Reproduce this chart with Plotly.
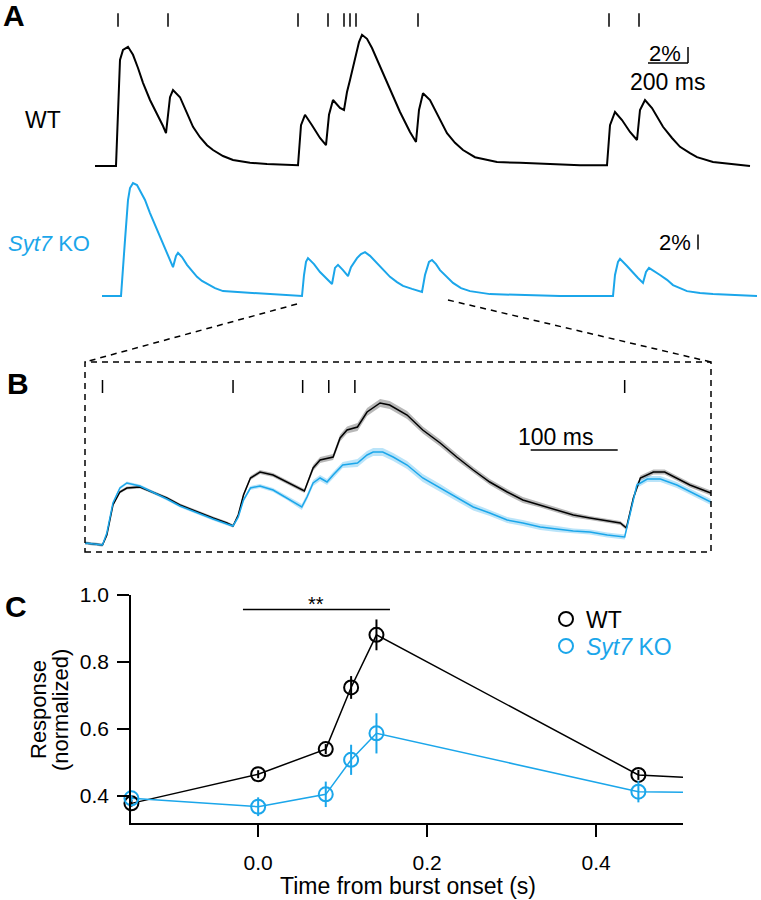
import plotly.graph_objects as go

W, H = 761, 900
BLUE = "#1ba6ea"
FONT = "Arial, Liberation Sans, sans-serif"

# ---------- panel A: single-trial traces (time in ms, response in % dF/F) ----------
stim_a = [115, 365, 1015, 1165, 1245, 1275, 1305, 1615, 2570, 2720]

wt_a_t = [0, 105, 125, 140, 165, 190, 215, 240, 275, 310, 340, 355, 375, 390, 425, 460, 490,
          525, 560, 590, 640, 690, 775, 860, 1005, 1015, 1030, 1050, 1085, 1125, 1155, 1170,
          1190, 1225, 1245, 1260, 1275, 1290, 1305, 1320, 1335, 1360, 1385, 1425, 1475, 1525,
          1575, 1605, 1620, 1640, 1675, 1710, 1760, 1800, 1840, 1900, 1960, 2010, 2125, 2260,
          2425, 2560, 2575, 2600, 2635, 2675, 2710, 2725, 2750, 2785, 2840, 2885, 2925, 2975,
          3010, 3090, 3175, 3275]
wt_a_y = [0.0, 0.0, 13.25, 14.5, 14.9, 13.9, 12.25, 10.4, 8.25, 6.6, 5.0, 4.1, 8.6, 9.5, 8.6,
          6.6, 4.9, 3.6, 2.6, 2.0, 1.25, 0.75, 0.4, 0.25, 0.1, 0.1, 5.1, 6.4, 5.1, 3.5, 2.6,
          6.4, 8.25, 7.25, 7.0, 9.25, 10.75, 12.4, 13.9, 15.5, 16.4, 15.9, 14.75, 12.4, 9.5,
          6.75, 4.25, 3.0, 7.0, 9.1, 8.25, 6.6, 4.1, 2.9, 2.0, 1.1, 0.75, 0.5, 0.4, 0.25, 0.1,
          0.1, 5.1, 6.75, 5.75, 4.25, 3.25, 7.0, 8.25, 7.25, 4.9, 3.5, 2.4, 1.6, 1.1,
          0.5, 0.25, 0.0]

ko_a_t = [35, 130, 150, 165, 175, 190, 210, 225, 250, 275, 300, 325, 350, 365, 390, 405, 415,
          435, 460, 485, 510, 535, 560, 600, 640, 700, 775, 910, 1035, 1045, 1055, 1065, 1095,
          1125, 1155, 1185, 1200, 1215, 1240, 1265, 1280, 1310, 1330, 1350, 1375, 1410, 1445,
          1475, 1510, 1540, 1585, 1635, 1650, 1670, 1685, 1705, 1725, 1760, 1790, 1830, 1875,
          1975, 2125, 2325, 2590, 2600, 2615, 2625, 2660, 2690, 2715, 2740, 2755, 2770, 2795,
          2825, 2860, 2890, 2925, 2960, 3025, 3090, 3310]
ko_a_y = [0.0, 0.0, 7.45, 12.8, 14.4, 15.05, 14.8, 14.1, 12.8, 11.05, 9.45, 7.85, 6.25, 5.2,
          3.85, 5.35, 5.75, 5.2, 4.15, 3.35, 2.55, 2.0, 1.6, 1.05, 0.65, 0.55, 0.4, 0.15, 0.0,
          2.8, 4.55, 5.05, 4.25, 3.2, 2.4, 1.6, 3.75, 4.15, 3.45, 2.65, 3.85, 5.05, 5.6, 5.85,
          5.35, 4.4, 3.45, 2.55, 1.85, 1.35, 0.95, 0.55, 2.8, 4.55, 4.8, 4.25, 3.45, 2.55, 1.75,
          1.05, 0.65, 0.25, 0.15, 0.0, 0.0, 2.8, 4.55, 4.95, 4.0, 3.05, 2.4, 1.75, 3.2, 3.75,
          3.35, 2.8, 2.15, 1.45, 1.05, 0.65, 0.4, 0.25, 0.0]

# ---------- panel B: averaged traces, mean +/- SEM (time from burst onset, ms) ----------
stim_b = [-150, 0, 80, 110, 140, 450]

wt_b_t = [-171, -150, -145, -138, -130, -122, -107, -92, -76, -61, -41, -23, -7, 0, 6, 12, 20,
          31, 46, 62, 74, 82, 92, 100, 115, 123, 131, 143, 154, 169, 180, 200, 218, 238, 257,
          276, 295, 315, 333, 353, 372, 391, 410, 430, 445, 452, 460, 468, 483, 496, 510, 525,
          549]
wt_b_mean = [0.2, 0.0, 1.0, 4.0, 5.3, 5.7, 5.8, 5.3, 4.7, 4.0, 3.3, 2.7, 2.2, 1.9, 3.0, 5.0,
             6.7, 7.3, 7.0, 6.3, 5.7, 5.4, 7.7, 8.5, 8.8, 10.7, 11.5, 11.8, 13.3, 14.2, 14.0,
             13.0, 11.5, 10.2, 8.8, 7.5, 6.3, 5.3, 4.5, 4.0, 3.5, 3.0, 2.7, 2.4, 2.2, 1.7, 4.7,
             6.7, 7.3, 7.3, 6.7, 6.0, 5.2]
wt_b_sem = [0.15, 0.15, 0.15, 0.15, 0.15, 0.15, 0.15, 0.15, 0.15, 0.15, 0.15, 0.15, 0.15, 0.15,
            0.2, 0.2, 0.2, 0.2, 0.2, 0.2, 0.2, 0.2, 0.3, 0.3, 0.3, 0.35, 0.35, 0.4, 0.4, 0.4,
            0.4, 0.4, 0.35, 0.35, 0.35, 0.3, 0.3, 0.3, 0.3, 0.25, 0.25, 0.25, 0.2, 0.2, 0.2,
            0.2, 0.25, 0.25, 0.25, 0.25, 0.25, 0.25, 0.25]

ko_b_t = [-171, -150, -145, -138, -130, -122, -107, -92, -76, -61, -41, -23, -7, 0, 6, 12, 20,
          31, 46, 62, 79, 85, 92, 100, 108, 115, 126, 143, 154, 161, 172, 184, 200, 218, 238,
          257, 276, 295, 315, 333, 353, 372, 391, 410, 430, 450, 456, 464, 476, 491, 510, 529,
          549]
ko_b_mean = [0.2, 0.0, 1.2, 4.2, 5.7, 6.2, 5.9, 5.3, 4.6, 3.9, 3.2, 2.6, 2.1, 1.9, 2.8, 4.5,
             5.7, 5.9, 5.5, 4.7, 3.8, 4.8, 6.2, 6.7, 6.3, 7.0, 8.0, 8.2, 9.0, 9.3, 9.3, 8.8,
             8.0, 6.7, 5.7, 4.7, 3.8, 3.2, 2.5, 2.2, 1.8, 1.6, 1.4, 1.3, 1.0, 0.8, 3.0, 6.0,
             6.6, 6.6, 6.0, 5.2, 4.3]
ko_b_sem = [0.15, 0.15, 0.15, 0.15, 0.15, 0.15, 0.15, 0.15, 0.15, 0.15, 0.15, 0.15, 0.15, 0.15,
            0.2, 0.2, 0.2, 0.2, 0.2, 0.2, 0.3, 0.3, 0.3, 0.3, 0.3, 0.3, 0.3, 0.4, 0.4, 0.4,
            0.4, 0.4, 0.4, 0.4, 0.4, 0.35, 0.35, 0.3, 0.3, 0.3, 0.3, 0.3, 0.25, 0.25, 0.25,
            0.25, 0.3, 0.3, 0.3, 0.3, 0.3, 0.3, 0.3]

# ---------- panel C: normalized response per stimulus ----------
c_t = [-0.15, 0.0, 0.08, 0.11, 0.14, 0.45]
c_wt = [0.378, 0.465, 0.540, 0.724, 0.881, 0.463]
c_wt_err = [0.010, 0.012, 0.015, 0.034, 0.046, 0.015]
c_ko = [0.393, 0.368, 0.405, 0.508, 0.587, 0.413]
c_ko_err = [0.010, 0.028, 0.038, 0.045, 0.060, 0.032]
c_edge_t = 0.5028
c_wt_edge = 0.456
c_ko_edge = 0.411


def px(x):
    return x / W


def py(y):
    return 1 - y / H


def tick_xy(times, lo, hi):
    xs, ys = [], []
    for t in times:
        xs += [t, t, None]
        ys += [lo, hi, None]
    return xs, ys


fig = go.Figure()

# A
tx, ty = tick_xy(stim_a, 17.4, 19.1)
fig.add_trace(go.Scatter(x=tx, y=ty, mode="lines", line=dict(color="black", width=1.5),
                         xaxis="x", yaxis="y", showlegend=False, hoverinfo="skip"))
fig.add_trace(go.Scatter(x=wt_a_t, y=wt_a_y, mode="lines", line=dict(color="black", width=2),
                         xaxis="x", yaxis="y", showlegend=False))
fig.add_trace(go.Scatter(x=ko_a_t, y=ko_a_y, mode="lines", line=dict(color=BLUE, width=2),
                         xaxis="x", yaxis="y2", showlegend=False))

# B
tx, ty = tick_xy(stim_b, 15.2, 16.5)
fig.add_trace(go.Scatter(x=tx, y=ty, mode="lines", line=dict(color="black", width=1.5),
                         xaxis="x3", yaxis="y3", showlegend=False, hoverinfo="skip"))
for t, m, s, band in [(wt_b_t, wt_b_mean, wt_b_sem, "rgba(0,0,0,0.28)"),
                      (ko_b_t, ko_b_mean, ko_b_sem, "rgba(27,166,234,0.3)")]:
    fig.add_trace(go.Scatter(x=t, y=[a + b for a, b in zip(m, s)], mode="lines",
                             line=dict(width=0), xaxis="x3", yaxis="y3", showlegend=False,
                             hoverinfo="skip"))
    fig.add_trace(go.Scatter(x=t, y=[a - b for a, b in zip(m, s)], mode="lines",
                             line=dict(width=0), fill="tonexty", fillcolor=band,
                             xaxis="x3", yaxis="y3", showlegend=False, hoverinfo="skip"))
for t, m, col in [(wt_b_t, wt_b_mean, "black"), (ko_b_t, ko_b_mean, BLUE)]:
    fig.add_trace(go.Scatter(x=t, y=m, mode="lines", line=dict(color=col, width=1.5),
                             xaxis="x3", yaxis="y3", showlegend=False))

# C
for y, edge, col in [(c_wt, c_wt_edge, "black"), (c_ko, c_ko_edge, BLUE)]:
    fig.add_trace(go.Scatter(x=c_t + [c_edge_t], y=y + [edge], mode="lines",
                             line=dict(color=col, width=1.5), xaxis="x4", yaxis="y4",
                             showlegend=False))
for y, err, col, name, leg in [
        (c_wt, c_wt_err, "black", "WT", "legend"),
        (c_ko, c_ko_err, BLUE, '<span style="color:%s"><i>Syt7</i> KO</span>' % BLUE,
         "legend2")]:
    fig.add_trace(go.Scatter(x=c_t, y=y, mode="markers", name=name, cliponaxis=False,
                             legend=leg,
                             marker=dict(symbol="circle-open", size=14, color=col,
                                         line=dict(width=2, color=col)),
                             error_y=dict(type="data", array=err, color=col, thickness=2,
                                          width=0),
                             xaxis="x4", yaxis="y4"))

hidden = dict(visible=False, showgrid=False, zeroline=False)
legend_style = dict(xanchor="left", yanchor="middle", font=dict(size=23),
                    bgcolor="rgba(0,0,0,0)", itemwidth=30, traceorder="normal")
fig.update_layout(
    width=W, height=H, margin=dict(l=0, r=0, t=0, b=0, autoexpand=False),
    paper_bgcolor="white", plot_bgcolor="white",
    font=dict(family=FONT, color="black", size=21),
    xaxis=dict(domain=[px(90), px(760)], range=[-25, 3325], anchor="y", **hidden),
    yaxis=dict(domain=[py(178), py(8)], range=[-1.5, 19.75], anchor="x", **hidden),
    yaxis2=dict(domain=[py(308), py(178)], range=[-1.6, 15.733], anchor="x", **hidden),
    xaxis3=dict(domain=[px(85), px(711)], range=[-170.1, 549.2], anchor="y3", **hidden),
    yaxis3=dict(domain=[py(552), py(362)], range=[-0.7, 18.3], anchor="x3", **hidden),
    xaxis4=dict(domain=[px(131), px(683)], range=[-0.1505, 0.5028], anchor="y4",
                showline=True, linecolor="black", linewidth=1.5, showgrid=False,
                zeroline=False, ticks="outside", ticklen=12, tickwidth=1.5,
                tickcolor="black", tickvals=[0.0, 0.2, 0.4], tickformat=".1f",
                ticklabelstandoff=8, automargin=False),
    yaxis4=dict(domain=[py(823), py(595)], range=[0.3194, 1.0], anchor="x4",
                showline=True, linecolor="black", linewidth=1.5, showgrid=False,
                zeroline=False, ticks="outside", ticklen=12, tickwidth=1.5,
                tickcolor="black", tickvals=[0.4, 0.6, 0.8, 1.0], tickformat=".1f",
                ticklabelstandoff=4, automargin=False),
    legend=dict(x=px(546), y=py(619), **legend_style),
    legend2=dict(x=px(546), y=py(646), **legend_style),
)

DASH = "6px,5px"
shapes = [
    # zoom box and connectors
    dict(type="rect", xref="paper", yref="paper", x0=px(85), x1=px(711), y0=py(552),
         y1=py(362), line=dict(color="black", width=1.5, dash=DASH)),
    dict(type="line", xref="paper", yref="paper", x0=px(297), y0=py(304), x1=px(85),
         y1=py(362), line=dict(color="black", width=1.5, dash=DASH)),
    dict(type="line", xref="paper", yref="paper", x0=px(448), y0=py(300), x1=px(711),
         y1=py(362), line=dict(color="black", width=1.5, dash=DASH)),
    # A scale bars (WT: 2 % and 200 ms; KO: 2 %)
    dict(type="line", xref="x", yref="y", x0=2765, x1=2965, y0=12.875, y1=12.875,
         line=dict(color="black", width=1.5)),
    dict(type="line", xref="x", yref="y", x0=2965, x1=2965, y0=12.875, y1=14.875,
         line=dict(color="black", width=1.5)),
    dict(type="line", xref="x", yref="y2", x0=3015, x1=3015, y0=6.2, y1=8.2,
         line=dict(color="black", width=1.5)),
    # B scale bar 100 ms
    dict(type="line", xref="x3", yref="y3", x0=342, x1=442, y0=9.5, y1=9.5,
         line=dict(color="black", width=1.5)),
    # C significance bar
    dict(type="line", xref="x4", yref="y4", x0=-0.018, x1=0.156, y0=0.957, y1=0.957,
         line=dict(color="black", width=1.5)),
]
fig.update_layout(shapes=shapes)

ann = [
    dict(text="<b>A</b>", x=px(14), y=py(15), font=dict(size=30)),
    dict(text="<b>B</b>", x=px(18), y=py(383), font=dict(size=30)),
    dict(text="<b>C</b>", x=px(16), y=py(606), font=dict(size=30)),
    dict(text="WT", x=px(43), y=py(120), font=dict(size=23)),
    dict(text="<i>Syt7</i> KO", x=px(49), y=py(244), font=dict(size=22, color=BLUE)),
    dict(text="Response", x=px(38), y=py(710), textangle=-90, font=dict(size=22)),
    dict(text="(normalized)", x=px(60), y=py(710), textangle=-90, font=dict(size=22)),
    dict(text="Time from burst onset (s)", x=px(408), y=py(886), font=dict(size=23)),
]
for a in ann:
    a.update(xref="paper", yref="paper", showarrow=False, xanchor="center",
             yanchor="middle")
ann += [
    dict(text="2%", x=2850, y=14.1, xref="x", yref="y", font=dict(size=22)),
    dict(text="200 ms", x=2860, y=10.5, xref="x", yref="y", font=dict(size=23)),
    dict(text="2%", x=2900, y=7.2, xref="x", yref="y2", font=dict(size=22)),
    dict(text="100 ms", x=370, y=10.8, xref="x3", yref="y3", font=dict(size=23)),
    dict(text="**", x=0.069, y=0.972, xref="x4", yref="y4", font=dict(size=20)),
]
for a in ann[-5:]:
    a.update(showarrow=False, xanchor="center", yanchor="middle")
fig.update_layout(annotations=ann)

# the page body has a default 8 px margin; drop it so the figure sits at the origin
fig.write_html("out.html", config={"displayModeBar": False},
               post_script="document.body.style.margin='0px';")
